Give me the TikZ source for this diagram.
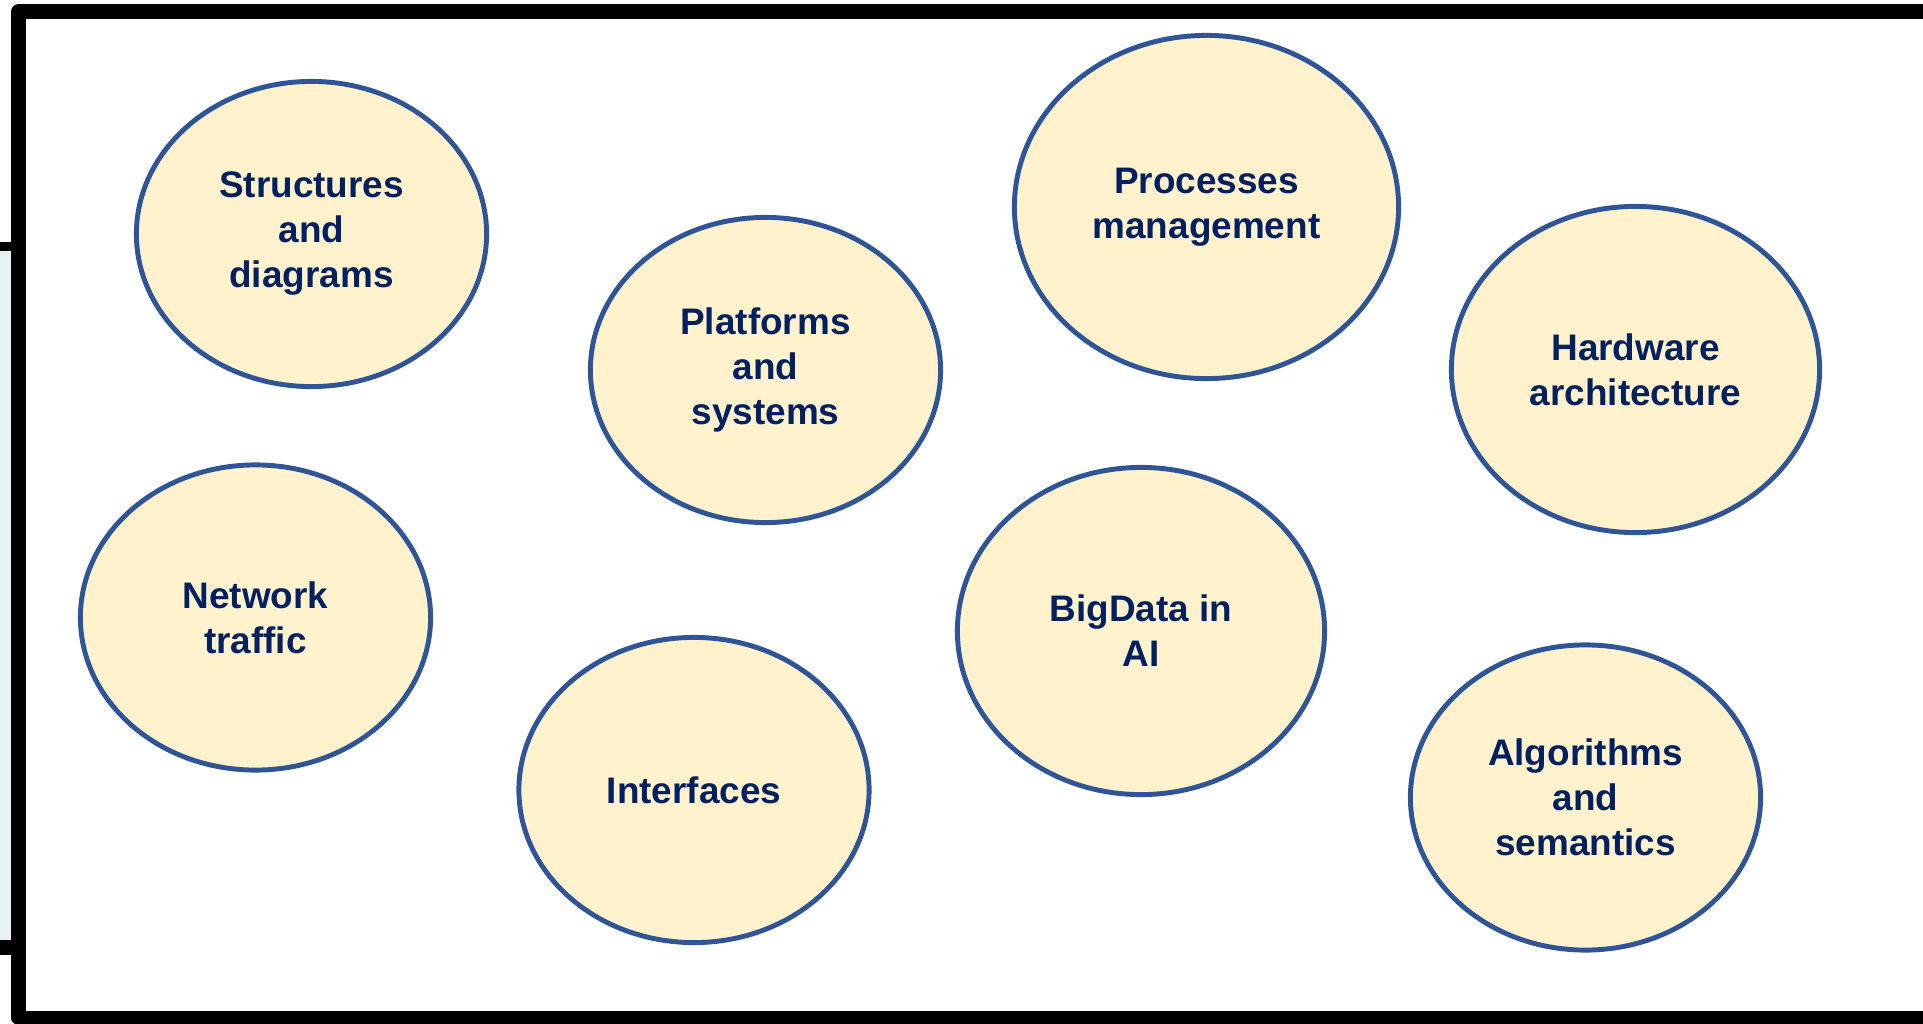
\documentclass[tikz,border=0pt]{standalone}
\usepackage{fontspec}
\setmainfont{Liberation Sans}
\usetikzlibrary{shapes.geometric}
\definecolor{topicfill}{HTML}{FFF2CC}
\definecolor{topicline}{HTML}{2F5597}
\definecolor{topictext}{HTML}{002060}
\definecolor{stripfill}{HTML}{E9F2F2}
\begin{document}
\begin{tikzpicture}[x=0.01cm, y=-0.01cm, line join=round]
	\tikzset{topic/.style={ellipse, draw=topicline, line width=1.4pt, fill=topicfill, text=topictext,
		inner sep=0pt, align=center, font=\fontsize{10.5}{12.8}\selectfont\bfseries,
		minimum width=3.5cm, minimum height=3.05cm}}
	\useasboundingbox (0,0) rectangle (1923,1024);
	% remnant of the slide behind
	\fill[stripfill] (0,251) rectangle (11,940);
	\fill (0,242) rectangle (11,251);
	\fill (0,940) rectangle (11,955);
	% frame
	\draw[line width=4pt] (18.5,11.5) rectangle (1930,1018);
	\node[topic] (struct) at (311.5,234) {Structures\\and\\diagrams};
	\node[topic] (platf) at (765.5,370) {Platforms\\and\\systems};
	\node[topic, minimum width=3.84cm, minimum height=3.43cm] (proc) at (1206.5,207) {Processes\\management};
	\node[topic, minimum width=3.68cm, minimum height=3.26cm] (hardw) at (1635.5,369.5) {Hardware\\architecture};
	\node[topic] (netw) at (255.5,617.5) {Network\\traffic};
	\node[topic] (interf) at (694,790) {Interfaces};
	\node[topic, minimum width=3.67cm, minimum height=3.27cm] (bigdata) at (1141,631) {BigData in\\AI};
	\node[topic] (algo) at (1585.5,797.5) {Algorithms\\and\\semantics};
\end{tikzpicture}
\end{document}
